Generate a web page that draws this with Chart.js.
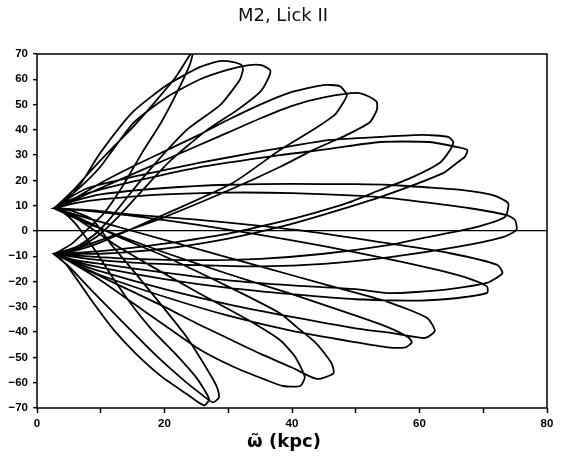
<!DOCTYPE html>
<html>
<head>
<meta charset="utf-8">
<script src="https://cdn.jsdelivr.net/npm/chart.js@4/dist/chart.umd.min.js"></script>
<style>
  html, body { margin: 0; padding: 0; background: #fff; }
  #wrap { width: 564px; height: 460px; }
</style>
</head>
<body>
<div id="wrap"><canvas id="orbita"></canvas></div>
<script>
// M2 meridional orbit: [R (kpc), z (kpc)]
// each petal starts at one cusp, runs out to its apocentre and back to the other cusp

// petals pointing up
const petalU1 = [[2.7,9],[4.2,12.5],[6,17],[8.5,24],[11.5,32],[15,41],[18.5,51],[21.8,61],[24.5,71.5],[24,66],[22,55],[19.5,43],[16.5,31],[13.5,18],[10.5,7],[7.8,0.4],[5.5,-5],[3.5,-8],[2.7,-9]];
const petalU2 = [[2.8,9],[4.7,12.2],[7.2,20],[9.9,30.8],[15,47],[20.4,57.7],[25.6,64.9],[28.7,67.2],[30.8,66.8],[32.1,65.6],[32.3,63.7],[31.8,59.7],[28.8,50],[23.5,40],[19,28],[15,16],[11.5,5],[9,-1.5],[6,-6.5],[2.8,-9]];
const petalU3 = [[2.6,9],[5,13.5],[7.5,19],[9.9,25.3],[15.1,42.7],[20.4,53],[25.6,60],[30,63.8],[33,65.5],[35.2,65.6],[36.6,63.5],[36.2,60],[35,55],[31.5,48],[26.7,40],[21,28],[16.5,16],[12.5,5],[9.5,-2],[6.5,-6.5],[2.6,-9]];
const petalU4 = [[2.7,9],[6,13],[10,19],[15,25.5],[20,31.5],[25,37.5],[30,44],[35,50],[40,55],[44.9,57.7],[47.5,57.3],[48.6,53.8],[48,50.6],[46.7,45.9],[43.3,40],[38.1,32],[30.7,19],[20.4,7],[15,1],[10,-4.5],[6,-7.8],[2.7,-9]];
const petalU5 = [[2.8,9],[6,12.5],[10,17],[15,22.5],[20,28],[25,33.5],[30,39],[35,44.5],[40,49.5],[45,52.8],[50.2,54.6],[52.2,53],[53.3,51],[53.3,47.8],[52.2,43],[48.6,38],[43.3,32],[38.1,25.3],[30,16],[20,5.5],[14,0],[9,-4.5],[5.5,-7.5],[2.8,-9]];
const petalU6 = [[2.7,9],[5,13],[8,17],[15,21.4],[25.6,27],[33,30.5],[38.1,32.8],[46,36],[53.8,37.2],[60.6,38],[64.5,37.2],[65.3,35.2],[64.8,32],[63.2,27],[59,21.4],[53.8,16.2],[48.6,11],[43.3,7],[38.1,3.6],[30,-1],[20,-5],[12,-7.5],[6,-8.7],[2.7,-9]];
const petalU7 = [[2.6,9],[5,12],[8,15],[15,19.5],[25,25],[38.1,30],[46,32.5],[53.8,35.2],[61.6,35.2],[65.9,33.2],[67.5,32],[67.1,29.3],[65.9,27],[63.7,22.9],[53.8,13.4],[45,6.5],[38.1,1.6],[30,-3],[20,-7],[10,-9],[2.6,-9]];
const petalU8 = [[2.7,9],[6,12],[10,14.5],[20,17],[30,18.3],[40,18.6],[50,18.5],[55.4,18.2],[61,17.3],[66.8,16.2],[71.5,14.2],[73.9,11],[73.4,5.5],[68.4,1.2],[60.5,-2.8],[55.4,-5.5],[45,-9],[35,-11],[25,-11.5],[15,-11],[8,-10],[2.7,-9]];
const petalU9 = [[2.8,9],[6,11],[10,12.5],[20,14.5],[30,15.2],[40,15],[50,14],[55.4,13],[61,11.3],[67.9,9],[73.7,6.3],[75,4.3],[75.2,0.4],[73.1,-2.4],[65.9,-6.3],[55.4,-10.3],[45,-13],[35,-14],[25,-13.5],[15,-12.5],[8,-11],[2.8,-9]];

// petals pointing down
const petalL1 = [[2.7,-9],[4.5,-13],[6.5,-20],[9,-29],[12,-39],[15.5,-48.5],[19.5,-57.5],[23.5,-64.5],[26.2,-69],[27,-66.5],[25,-58],[21.5,-48],[18,-39],[14.5,-28],[11.5,-17],[9.2,-8],[7.5,-2],[6,3],[4.3,7],[2.7,9]];
const petalL2 = [[2.6,-9],[5,-14],[8,-22],[11.5,-31],[15,-40],[19,-50],[23,-59],[26,-65],[27.6,-67.8],[28.5,-66],[28.4,-63],[27.7,-59],[23.5,-42],[19.3,-28.6],[15,-15.4],[11.5,-4.9],[8.8,4.3],[5.5,8],[2.6,9]];
const petalL3 = [[2.8,-9],[4.7,-11.5],[9.9,-19.4],[15.1,-28.6],[20.4,-38],[25.6,-47],[30.8,-53.7],[36,-59],[38.6,-61.3],[41.3,-61.3],[42,-57.7],[40.5,-49.8],[38.1,-43.1],[33,-35],[25,-24],[18,-14],[12,-5],[8,2],[5,6.5],[2.8,9]];
const petalL4 = [[2.7,-9],[5.5,-12.5],[10,-18],[15,-24],[20,-30],[25,-36.5],[30,-42.5],[35,-48.5],[40,-54],[43.9,-58.5],[46.5,-56.3],[46.2,-52.3],[43.8,-44.4],[40.7,-37.9],[38.1,-32.5],[30,-22],[20,-10],[13,-2.5],[8,3.5],[5,7],[2.7,9]];
const petalL5 = [[2.6,-9],[6,-13],[10,-17.5],[20,-26],[30,-33.5],[40,-39.5],[50,-44],[55,-46],[57.8,-46],[58.8,-44],[58.2,-42],[55,-38],[50,-33.5],[40,-25],[30,-17],[20,-8.5],[12,-1],[7,4],[2.6,9]];
const petalL6 = [[2.8,-9],[6,-12.5],[10,-16],[20,-23],[30,-29],[40,-34],[50,-38.5],[56,-40.5],[60.9,-42.3],[62.4,-39.5],[61.2,-34.4],[55,-28],[45,-21],[35,-14],[25,-7],[15,0],[8,5],[2.8,9]];
const petalL7 = [[2.7,-9],[6,-12],[10,-14.5],[20,-19],[30,-22.5],[40,-25],[50,-27],[60,-27.5],[66,-26.5],[70.6,-24.5],[70.6,-22],[68,-19],[63,-15.5],[55,-11],[45,-6],[35,-1.5],[25,2.5],[15,6],[8,8],[2.7,9]];
const petalL8 = [[2.6,-9],[6,-11.5],[10,-13],[20,-16.5],[30,-19.5],[40,-21.5],[50,-23],[55.4,-24.6],[63.7,-23.3],[70.6,-20.5],[73,-16.7],[72.2,-13.4],[64.8,-8.8],[55.4,-5],[45,-1],[35,2],[25,4.5],[15,6.5],[8,8.3],[2.6,9]];

// axes
const xTicks = [0, 10, 20, 30, 40, 50, 60, 70, 80];
const xLabels = [0, 20, 40, 60, 80];
const yTicks = [-70, -60, -50, -40, -30, -20, -10, 0, 10, 20, 30, 40, 50, 60, 70];

const titulo = 'M2, Lick II';
const tituloX = 'ω\u0303 (kpc)';

// === monta a órbita (as pétalas se alternam cima / baixo) ===
const ordem = [petalU1, petalL1, petalU2, petalL2, petalU3, petalL3, petalU4, petalL4,
               petalU5, petalL5, petalU6, petalL6, petalU7, petalL7, petalU8, petalL8, petalU9];
const orbita = [];
ordem.forEach(p => p.forEach(([r, z]) => orbita.push({ x: r, y: z })));

// moldura + títulos desenhados à mão
const moldura = {
    id: 'moldura',
    afterDraw(chart) {
        const a = chart.chartArea;
        const ctx = chart.ctx;
        ctx.save();
        ctx.strokeStyle = '#000';
        ctx.lineWidth = 1.5;
        ctx.strokeRect(a.left, a.top, a.right - a.left, a.bottom - a.top);

        ctx.fillStyle = '#111';
        ctx.textAlign = 'center';
        ctx.textBaseline = 'middle';
        ctx.font = "18px 'DejaVu Sans', sans-serif";
        ctx.fillText(titulo, 283, 16);

        ctx.fillStyle = '#000';
        ctx.font = "bold 18px 'DejaVu Sans', sans-serif";
        ctx.fillText(tituloX, 284, 442);
        ctx.restore();
    }
};

const fonteTick = { family: "'Liberation Sans', Arial, sans-serif", size: 11.5, weight: 'bold' };
const menos = v => String(v).replace('-', '\u2212');

new Chart(document.getElementById('orbita'), {
    type: 'scatter',
    data: {
        datasets: [{
            data: orbita,
            showLine: true,
            borderColor: '#000',
            borderWidth: 1.8,
            pointRadius: 0,
            tension: 0.2
        }]
    },
    options: {
        responsive: true,
        maintainAspectRatio: false,
        animation: false,
        layout: { padding: { left: 0, right: 17, top: 54, bottom: 0 } },
        plugins: {
            legend: { display: false },
            tooltip: { enabled: false },
            title: { display: false }
        },
        scales: {
            x: {
                type: 'linear',
                min: 0, max: 80,
                afterBuildTicks: s => { s.ticks = xTicks.map(v => ({ value: v })); },
                afterFit: s => { s.height = 52; },
                border: { display: false },
                grid: { drawOnChartArea: false, drawTicks: true, tickLength: 5, tickColor: '#000', tickWidth: 1.5 },
                ticks: {
                    color: '#000',
                    font: fonteTick,
                    padding: 4,
                    maxRotation: 0,
                    autoSkip: false,
                    callback: v => xLabels.includes(v) ? String(v) : ''
                }
            },
            y: {
                type: 'linear',
                min: -70, max: 70,
                afterBuildTicks: s => { s.ticks = yTicks.map(v => ({ value: v })); },
                afterFit: s => { s.width = 37; },
                border: { display: false },
                grid: {
                    drawOnChartArea: true,
                    drawTicks: true,
                    tickLength: 4,
                    tickColor: '#000',
                    tickWidth: 1.5,
                    color: c => c.tick && c.tick.value === 0 ? '#000' : 'rgba(0,0,0,0)',
                    lineWidth: 1.3
                },
                ticks: { color: '#000', font: fonteTick, padding: 5, autoSkip: false, callback: menos }
            }
        }
    },
    plugins: [moldura]
});
</script>
</body>
</html>
